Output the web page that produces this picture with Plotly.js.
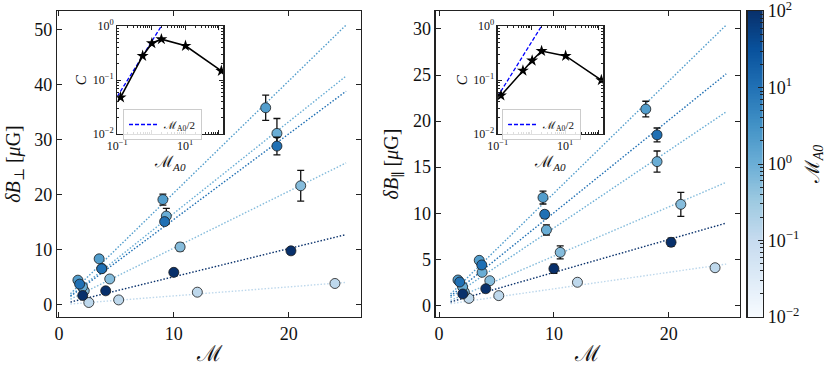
<!DOCTYPE html>
<html>
<head>
<meta charset="utf-8">
<script src="https://cdn.plot.ly/plotly-3.0.1.min.js"></script>
<style>body{margin:0;background:#fff}#plot{width:830px;height:366px}</style>
</head>
<body>
<div id="plot"></div>
<script>
// Alfven Mach number of each run set (sets the colour), low to high
var mA0 = [0.125, 0.56, 1.05, 2.0, 10.3, 118];

// sonic Mach number of the 4 runs in each set
var mach = [
  [2.6, 5.2, 12.05, 24.03],
  [2.2, 4.42, 10.55, 21.05],
  [2.05, 3.75, 9.35, 18.98],
  [1.65, 3.5, 9.05, 18.0],
  [1.8, 3.72, 9.2, 18.98],
  [2.07, 4.07, 10.0, 20.2]
];

// delta B perpendicular [muG] and errors
var dBperp = [
  [0.43, 0.9, 2.3, 3.88],
  [2.54, 4.7, 10.5, 21.6],
  [3.27, 6.6, 16.1, 31.1],
  [4.48, 8.35, 19.1, 35.75],
  [3.76, 6.55, 15.1, 28.8],
  [1.7, 2.55, 5.9, 9.8]
];
var errPerp = [
  [0.1, 0.1, 0.2, 0.3],
  [0.2, 0.3, 0.7, 2.8],
  [0.3, 0.4, 1.4, 2.7],
  [0.3, 0.4, 1.0, 2.3],
  [0.2, 0.4, 0.6, 1.6],
  [0.2, 0.2, 0.5, 0.5]
];

// delta B parallel [muG] and errors
var dBpar = [
  [0.75, 1.05, 2.5, 4.08],
  [1.45, 2.67, 5.75, 10.96],
  [2.0, 3.58, 8.18, 15.6],
  [2.75, 4.88, 11.7, 21.3],
  [2.53, 4.38, 9.88, 18.5],
  [1.23, 1.8, 3.98, 6.84]
];
var errPar = [
  [0.05, 0.1, 0.1, 0.3],
  [0.1, 0.15, 0.7, 1.3],
  [0.1, 0.2, 0.55, 1.15],
  [0.15, 0.25, 0.7, 0.85],
  [0.1, 0.2, 0.4, 0.75],
  [0.1, 0.1, 0.5, 0.45]
];

// fitted slopes dB = slope * M
var slopePerp = [0.163, 1.03, 1.66, 2.03, 1.55, 0.51];
var slopePar = [0.179, 0.534, 0.84, 1.217, 1.005, 0.357];
var fitRange = [1, 25];

// insets: C vs M_A0
var cPerp = [0.048, 0.28, 0.48, 0.57, 0.43, 0.148];
var cPar = [0.052, 0.15, 0.23, 0.345, 0.28, 0.1];
var halfLineX = [0.08, 2.0];

// matplotlib Blues
var bluesStops = ['#f7fbff','#deebf7','#c6dbef','#9ecae1','#6baed6','#4292c6','#2171b5','#08519c','#08306b'];
function hexRgb(h) { return [parseInt(h.substr(1,2),16), parseInt(h.substr(3,2),16), parseInt(h.substr(5,2),16)]; }
function blues(t) {
  t = Math.max(0, Math.min(1, t));
  var p = t * 8, i = Math.min(7, Math.floor(p)), f = p - i;
  var a = hexRgb(bluesStops[i]), b = hexRgb(bluesStops[i+1]);
  return 'rgb(' + a.map(function(v, k) { return Math.round(v + (b[k]-v)*f); }).join(',') + ')';
}
function colorOf(m) { return blues((Math.log10(m) + 2) / 4); }

var FONT = 'Liberation Serif, DejaVu Serif, serif';
var traces = [];

function addPanel(xa, ya, yvals, errs, slopes) {
  for (var i = 0; i < mA0.length; i++) {
    var s = slopes[i];
    traces.push({
      x: fitRange, y: fitRange.map(function(v) { return v * s; }),
      mode: 'lines', xaxis: xa, yaxis: ya, showlegend: false, hoverinfo: 'skip',
      line: {color: colorOf(mA0[i]), dash: '1.5px,1.8px', width: 1.4}
    });
  }
  for (var j = 0; j < mA0.length; j++) {
    traces.push({
      x: mach[j], y: yvals[j], mode: 'markers', xaxis: xa, yaxis: ya, showlegend: false,
      marker: {color: colorOf(mA0[j]), size: 10, line: {color: '#1a1a1a', width: 0.8}},
      error_y: {type: 'data', array: errs[j], color: '#111', thickness: 1.3, width: 3.5}
    });
  }
}
addPanel('x', 'y', dBperp, errPerp, slopePerp);
addPanel('x2', 'y2', dBpar, errPar, slopePar);

function addInset(xa, ya, cvals, leg) {
  traces.push({
    x: halfLineX, y: halfLineX.map(function(v) { return v / 2; }),
    mode: 'lines', xaxis: xa, yaxis: ya, legend: leg, showlegend: true,
    name: 'ℳ<sub>A0</sub>/2',
    line: {color: '#0000ff', dash: '4px,2px', width: 1.3}
  });
  traces.push({
    x: mA0, y: cvals, mode: 'lines+markers', xaxis: xa, yaxis: ya, showlegend: false,
    line: {color: 'black', width: 1.6},
    marker: {symbol: 'star', size: 9, color: 'black'}
  });
}
addInset('x3', 'y3', cPerp, 'legend');
addInset('x4', 'y4', cPar, 'legend2');

// colour bar drawn as a heatmap strip
var cbY = [];
for (var k = 0; k <= 200; k++) cbY.push(-2 + 4 * k / 200);
traces.push({
  type: 'heatmap', x: [0], y: cbY, z: cbY.map(function(v) { return [v]; }),
  colorscale: bluesStops.map(function(c, i) { return [i / 8, c]; }),
  zmin: -2, zmax: 2, showscale: false, xaxis: 'x5', yaxis: 'y5', hoverinfo: 'skip'
});

function mainAxis(extra) {
  var a = {showline: true, linecolor: '#222', linewidth: 1.2, mirror: 'allticks', ticks: 'inside',
    ticklen: 5, tickcolor: '#222', showgrid: false, zeroline: false, tickfont: {size: 18, color: '#111'}};
  for (var key in extra) a[key] = extra[key];
  return a;
}
function minorLog(lo, hi) {
  var v = [];
  for (var d = lo; d < hi; d++) for (var m = 2; m <= 9; m++) v.push(m * Math.pow(10, d));
  return v;
}
function insetX(dom, anchor) {
  return mainAxis({type: 'log', domain: dom, anchor: anchor, range: [-1, 2.13], ticklen: 4,
    tickvals: [0.1, 1, 10, 100], ticktext: ['10<sup>−1</sup>', '', '10<sup>1</sup>', ''],
    tickfont: {size: 12, color: '#111'},
    minor: {tickvals: minorLog(-1, 3), ticks: 'inside', ticklen: 2, tickcolor: '#222'},
    title: {text: 'ℳ<sub><i>A0</i></sub>', font: {size: 16}, standoff: 4}});
}
function insetY(anchor) {
  return mainAxis({type: 'log', domain: [0.5971, 0.951], anchor: anchor, range: [-2, 0], ticklen: 4,
    tickvals: [0.01, 0.1, 1], ticktext: ['10<sup>−2</sup>', '10<sup>−1</sup>', '10<sup>0</sup>'],
    tickfont: {size: 12, color: '#111'},
    minor: {tickvals: minorLog(-2, 0), ticks: 'inside', ticklen: 2, tickcolor: '#222'},
    title: {text: '<i>C</i>', font: {size: 15}, standoff: 2}});
}
function legendAt(x) {
  return {x: x, y: 0.6797, xref: 'paper', yref: 'paper', xanchor: 'left', yanchor: 'top',
    bgcolor: 'rgba(255,255,255,0.85)', bordercolor: '#ccc', borderwidth: 1, font: {size: 11}};
}

var layout = {
  width: 830, height: 366,
  margin: {l: 57, r: 67, t: 11, b: 49},
  paper_bgcolor: 'white', plot_bgcolor: 'white',
  font: {family: FONT, color: '#111'},
  xaxis: mainAxis({domain: [0, 0.4306], anchor: 'y', range: [-0.17, 26.3], tickvals: [0, 10, 20],
    title: {text: 'ℳ', font: {size: 22}, standoff: 4}}),
  yaxis: mainAxis({domain: [0, 1], anchor: 'x', range: [-2.2, 53.3], tickvals: [0, 10, 20, 30, 40, 50],
    title: {text: '<i>δB</i><sub>⊥</sub> [<i>μ</i>G]', font: {size: 20}, standoff: 8}}),
  xaxis2: mainAxis({domain: [0.5364, 0.9674], anchor: 'y2', range: [-0.29, 26.2], tickvals: [0, 10, 20],
    title: {text: 'ℳ', font: {size: 22}, standoff: 4}}),
  yaxis2: mainAxis({domain: [0, 1], anchor: 'x2', range: [-1.27, 31.95], tickvals: [0, 5, 10, 15, 20, 25, 30],
    title: {text: '<i>δB</i><sub>∥</sub> [<i>μ</i>G]', font: {size: 20}, standoff: 8}}),
  xaxis3: insetX([0.0854, 0.2356], 'y3'),
  yaxis3: insetY('x3'),
  xaxis4: insetX([0.6242, 0.7738], 'y4'),
  yaxis4: insetY('x4'),
  xaxis5: {domain: [0.9783, 1.0], anchor: 'y5', range: [-0.5, 0.5], showticklabels: false, ticks: '',
    showline: true, mirror: true, linecolor: '#222', linewidth: 1.2, showgrid: false, zeroline: false},
  yaxis5: {domain: [0, 1], anchor: 'x5', side: 'right', range: [-2.001, 2.001], showline: true, mirror: true,
    linecolor: '#222', linewidth: 1.2, showgrid: false, zeroline: false,
    ticks: 'inside', ticklen: 5, tickcolor: '#222', ticklabeloverflow: 'allow',
    tickvals: [-2, -1, 0, 1, 2],
    ticktext: ['10<sup>−2</sup>', '10<sup>−1</sup>', '10<sup>0</sup>', '10<sup>1</sup>', '10<sup>2</sup>'],
    tickfont: {size: 18, color: '#111'},
    minor: {tickvals: minorLog(-2, 2).map(function(v) { return Math.log10(v); }), ticks: 'inside', ticklen: 3, tickcolor: '#222'},
    title: {text: 'ℳ<sub><i>A0</i></sub>', font: {size: 20}, standoff: 6}},
  legend: legendAt(0.0935),
  legend2: legendAt(0.6303)
};

Plotly.newPlot('plot', traces, layout, {displayModeBar: false, staticPlot: true});
</script>
</body>
</html>
